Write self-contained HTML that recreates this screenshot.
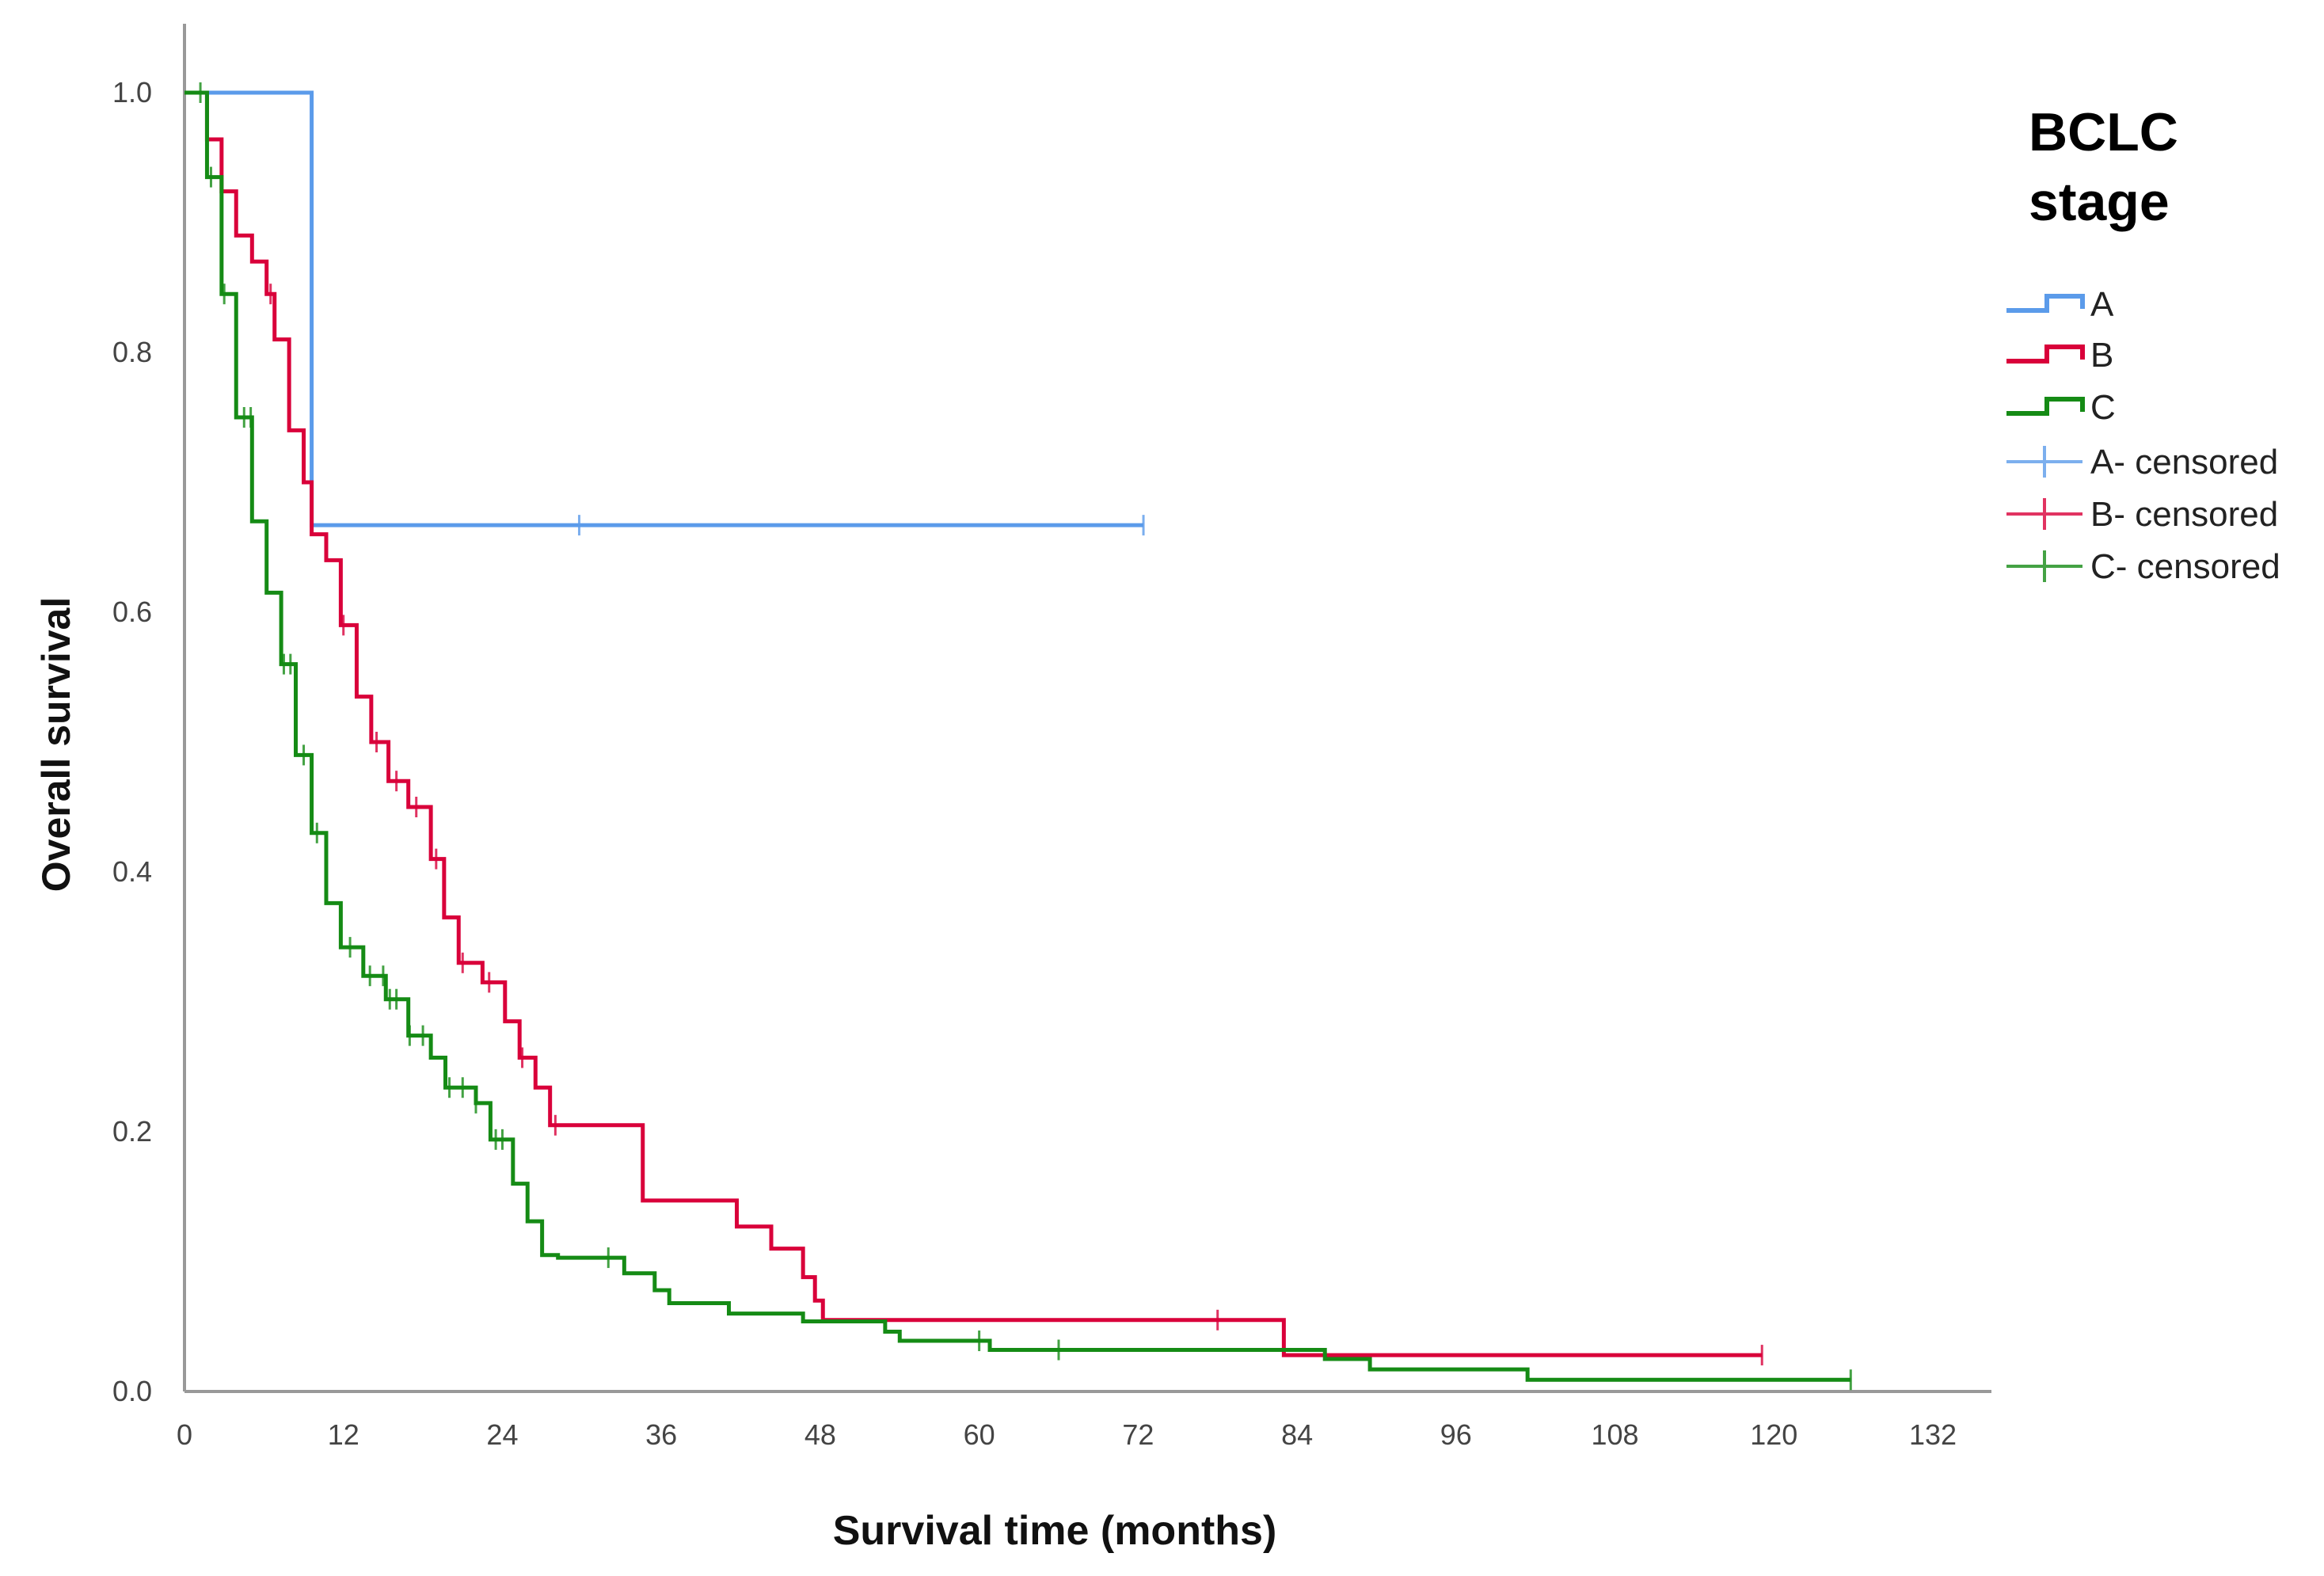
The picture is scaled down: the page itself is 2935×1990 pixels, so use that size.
<!DOCTYPE html>
<html><head><meta charset="utf-8"><style>
html,body{margin:0;padding:0;background:#fff}
svg{display:block;font-family:"Liberation Sans",sans-serif}
</style></head><body>
<svg id="chart" width="2935" height="1990" viewBox="0 0 2935 1990">
<g id="axes"></g>
<g id="series"></g>
<text x="75" y="940" transform="rotate(-90 75 940)" text-anchor="middle" dominant-baseline="middle" font-size="50" font-weight="bold" fill="#111">Overall survival</text>
<text x="1332" y="1950" text-anchor="middle" font-size="52" font-weight="bold" fill="#111">Survival time (months)</text>
<g>
<text x="2562" y="190" font-size="68" font-weight="bold" fill="#000">BCLC</text>
<text x="2562" y="278" font-size="68" font-weight="bold" fill="#000">stage</text>
<g id="legendItems"></g>
</g>
</svg>
<script>
const xTicks=[0,12,24,36,48,60,72,84,96,108,120,132];
const yTicks=[0.0,0.2,0.4,0.6,0.8,1.0];
const aTimes=[0,9.6,72.4];
const aSurv=[1.0,0.667,0.667];
const aCens=[29.8,72.4];
const bTimes=[0,1.7,2.8,3.9,5.1,6.2,6.8,7.9,9.0,9.6,10.7,11.8,13.0,14.1,15.4,16.9,18.6,19.6,20.7,22.5,24.2,25.3,26.5,27.6,34.6,41.7,44.3,46.7,47.6,48.2,83.0,119.1];
const bSurv=[1.0,0.964,0.924,0.89,0.87,0.845,0.81,0.74,0.70,0.66,0.64,0.59,0.535,0.50,0.47,0.45,0.41,0.365,0.33,0.315,0.285,0.257,0.234,0.205,0.147,0.127,0.11,0.088,0.07,0.055,0.028,0.028];
const bCens=[6.5,12,14.5,16,17.5,19,21,23,25.5,28,78,119.1];
const cTimes=[0,1.7,2.8,3.9,5.1,6.2,7.3,8.4,9.6,10.7,11.8,13.5,15.2,16.9,18.6,19.7,22,23.1,24.8,25.9,27,28.2,33.2,35.5,36.6,41.1,46.7,52.9,54,60.8,86.1,89.5,101.4,125.8];
const cSurv=[1.0,0.935,0.845,0.75,0.67,0.615,0.56,0.49,0.43,0.376,0.342,0.32,0.302,0.274,0.257,0.234,0.222,0.194,0.16,0.131,0.105,0.103,0.091,0.078,0.068,0.06,0.054,0.046,0.039,0.032,0.025,0.017,0.009,0.009];
const cCens=[1.2,2,3,4.5,5,7.5,8,9,10,12.5,14,15,15.5,16,17,18,20,21,22,23.5,24,32,60,66,125.8];
const NS="http://www.w3.org/2000/svg";
const X=m=>233+m*(2441-233)/132;
const Y=s=>1757-s*(1757-117);
function mk(tag,attrs,parent){const e=document.createElementNS(NS,tag);for(const k in attrs)e.setAttribute(k,attrs[k]);parent.appendChild(e);return e;}
const axes=document.getElementById('axes');
let ax=mk('line',{x1:233,y1:30,x2:233,y2:1757,stroke:'#999','stroke-width':4},axes);


let bx=mk('line',{x1:233,y1:1757,x2:2515,y2:1757,stroke:'#999','stroke-width':4},axes);


xTicks.forEach(t=>{const e=mk('text',{x:X(t),y:1824,'text-anchor':'middle','font-size':36,fill:'#444'},axes);e.textContent=t;

});
yTicks.forEach(t=>{const e=mk('text',{x:192,y:Y(t)+12,'text-anchor':'end','font-size':36,fill:'#444'},axes);e.textContent=t.toFixed(1);

});
const series=document.getElementById('series');
function drawSeries(name,times,surv,cens,color){
 let d='M'+X(times[0])+' '+Y(surv[0]);
 for(let i=1;i<times.length;i++){d+=' H'+X(times[i])+' V'+Y(surv[i]);}
 const p=mk('path',{d:d,fill:'none',stroke:color,'stroke-width':5},series);
 
 
 cens.forEach(c=>{let s=surv[0];for(let i=0;i<times.length;i++){if(times[i]<=c)s=surv[i];}
  const t=mk('path',{d:'M'+X(c)+' '+(Y(s)-13)+' V'+(Y(s)+13),stroke:color,'stroke-width':3,opacity:0.8},series);
  
  });
}
drawSeries('a',aTimes,aSurv,aCens,'#5b9bea');
drawSeries('b',bTimes,bSurv,bCens,'#d9003a');
drawSeries('c',cTimes,cSurv,cCens,'#158b15');
const lg=document.getElementById('legendItems');
const items=[['A','#5b9bea',384,0],['B','#d9003a',448,0],['C','#158b15',514,0],['A- censored','#5b9bea',583,1],['B- censored','#d9003a',649,1],['C- censored','#158b15',715,1]];
items.forEach(it=>{const [lab,col,y,cen]=it;
 let sym;
 if(!cen){sym=mk('path',{d:`M2534 ${y+8} H2585 V${y-10} H2630 V${y+6}`,fill:'none',stroke:col,'stroke-width':6},lg);}
 else{sym=mk('path',{d:`M2534 ${y} H2630 M2582 ${y-20} V${y+20}`,fill:'none',stroke:col,'stroke-width':4,opacity:0.8},lg);}
 
 
 const t=mk('text',{x:2640,y:y+15,'font-size':44,fill:'#222'},lg);t.textContent=lab;
 
 
});
</script>
</body></html>
